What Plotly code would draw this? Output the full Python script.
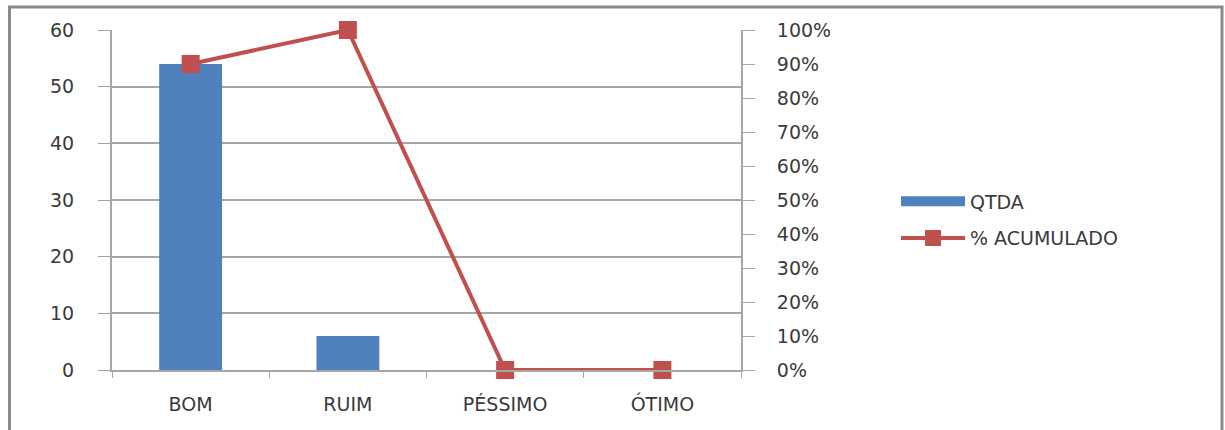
import plotly.graph_objects as go

# Quality ratings, counts and cumulative share
categorias = ["BOM", "RUIM", "PÉSSIMO", "ÓTIMO"]
qtda = [54, 6, 0, 0]
pct_acumulado = [0.90, 1.00, 0.00, 0.00]

W, H = 1225, 430
L, R, T, B = 112, 484, 30, 60
pw, ph = W - L - R, H - T - B

FONT = dict(family="DejaVu Sans", size=19, color="#3a3a3a")
AXIS_GRAY = "#a6a6a6"
AZUL = "#4F81BD"
VERMELHO = "#C0504D"

fig = go.Figure()
fig.add_trace(go.Bar(
    x=categorias, y=qtda, name="QTDA",
    marker=dict(color=AZUL, line=dict(width=0)),
    yaxis="y", showlegend=False,
))
# legend key for the bars: a thick bar-like swatch
fig.add_trace(go.Scatter(
    x=[None], y=[None], name="QTDA", mode="lines",
    line=dict(color=AZUL, width=11), legendgroup="a",
))
fig.add_trace(go.Scatter(
    x=categorias, y=pct_acumulado, name="% ACUMULADO",
    mode="lines+markers",
    line=dict(color=VERMELHO, width=4),
    marker=dict(symbol="square", size=18, color=VERMELHO),
    yaxis="y2", cliponaxis=False, legendgroup="b",
))


def px_x(x):
    return (x - L) / pw


def px_y(y):
    return (H - B - y) / ph


fig.update_layout(
    width=W, height=H,
    margin=dict(l=L, r=R, t=T, b=B),
    paper_bgcolor="white", plot_bgcolor="white",
    font=FONT,
    bargap=0.6,
    showlegend=True,
    legend=dict(
        x=px_x(896), y=px_y(220), xanchor="left", yanchor="middle",
        font=FONT, tracegroupgap=9, itemwidth=64,
        bgcolor="rgba(0,0,0,0)",
    ),
    xaxis=dict(
        type="category", range=[-0.5, 3.5],
        tickson="boundaries", ticks="outside", ticklen=6,
        tickcolor=AXIS_GRAY, showline=True, linecolor=AXIS_GRAY, linewidth=2,
        showgrid=False, ticklabelstandoff=16,
    ),
    yaxis=dict(
        range=[0, 60], dtick=10, ticks="outside", ticklen=12,
        tickcolor=AXIS_GRAY, showline=True, linecolor=AXIS_GRAY, linewidth=2,
        showgrid=True, gridcolor=AXIS_GRAY, gridwidth=1.5,
        zeroline=False, ticklabelstandoff=20,
    ),
    yaxis2=dict(
        range=[0, 1], dtick=0.1, tickformat=".0%", overlaying="y", side="right",
        ticks="outside", ticklen=12, tickcolor=AXIS_GRAY,
        showline=True, linecolor=AXIS_GRAY, linewidth=2,
        showgrid=False, zeroline=False, ticklabelstandoff=18,
    ),
    shapes=[dict(
        type="rect", xref="paper", yref="paper",
        x0=px_x(9.5), x1=px_x(1222), y0=px_y(7), y1=px_y(445),
        line=dict(color="#8a8a8a", width=3), layer="below",
    )],
)

fig.write_html("out.html")
